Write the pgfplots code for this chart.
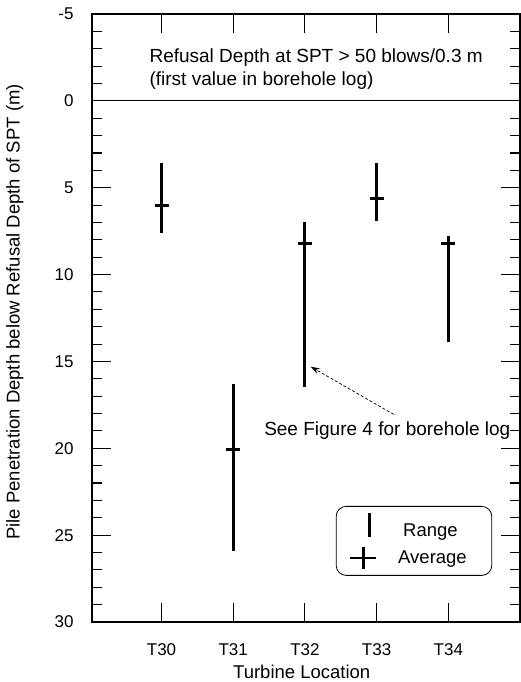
\documentclass[border=0pt]{standalone}
\usepackage{fontspec}
\setmainfont{Liberation Sans}
\usepackage{pgfplots}
\pgfplotsset{compat=1.18}
\usepackage{pgfplotstable}
\usetikzlibrary{arrows.meta}

% pile penetration below refusal depth: min, max, average (m)
\pgfplotstableread{
x lo hi avg
0 3.6 7.6 6.0
1 16.3 25.9 20.05
2 7.0 16.5 8.2
3 3.55 6.9 5.6
4 7.8 13.9 8.2
}\piles

\begin{document}
\begin{tikzpicture}[font=\fontsize{18.5}{22}\selectfont]
\useasboundingbox (-92pt,-60pt) rectangle (429pt,622pt);
\begin{axis}[
  at={(0,0)}, anchor=south west,
  scale only axis, width=428pt, height=608pt,
  xmin=-0.97, xmax=5, ymin=-5, ymax=30, y dir=reverse,
  xtick={0,...,4}, xticklabels={T30,T31,T32,T33,T34},
  ytick={-5,0,...,30}, minor y tick num=4,
  tick align=inside, major tick length=19pt, minor tick length=10pt,
  every tick/.style={black, line width=1.1pt},
  axis line style={line width=1.6pt},
  /pgf/number format/assume math mode=true,
  tick label style={font=\fontsize{17}{20}\selectfont},
  yticklabel style={xshift=-15pt},
  xticklabel style={yshift=-18pt},
  xlabel={Turbine Location},
  ylabel={Pile Penetration Depth below Refusal Depth of SPT (m)},
  xlabel style={at={(axis description cs:0.49,0)}, anchor=center, yshift=-50pt},
  ylabel style={at={(axis description cs:-0.18,0.51)}, anchor=center},
  legend style={at={(axis description cs:0.935,0.076)}, anchor=south east,
    draw=black, line width=0.8pt, rounded corners=10pt,
    inner xsep=3pt, inner ysep=5pt, row sep=6pt},
  legend cell align=left,
]
\addplot[black, line width=1pt, forget plot] coordinates {(-0.97,0) (5,0)};
\addplot[draw=none, mark=none, forget plot,
  error bars/.cd, y dir=both, y explicit, error mark=none,
  error bar style={line width=3pt}]
  table[x=x, y=avg,
    y error plus expr=\thisrow{hi}-\thisrow{avg},
    y error minus expr=\thisrow{avg}-\thisrow{lo}] {\piles};
\addplot[only marks, mark=-, mark size=7pt, forget plot,
  mark options={line width=3pt}] table[x=x, y=avg] {\piles};

\addlegendimage{legend image code/.code={
  \path[draw=none] (0pt,0pt) -- (44pt,0pt);
  \draw[line width=2.6pt] (30pt,-6pt) -- (30pt,18pt);}}
\addlegendentry{\hspace{18pt}Range}
\addlegendimage{legend image code/.code={
  \path[draw=none] (0pt,0pt) -- (44pt,0pt);
  \draw[line width=2.6pt] (11pt,0pt) -- (37pt,0pt);
  \draw[line width=2.6pt] (24pt,-11pt) -- (24pt,11pt);}}
\addlegendentry{\hspace{13pt}Average\kern20pt}

\node[anchor=west, align=left, inner sep=0pt, font=\fontsize{19}{23}\selectfont]
  at (axis cs:-0.17,-1.85)
  {Refusal Depth at SPT > 50 blows/0.3 m\\(first value in borehole log)};
\draw[densely dashed, line width=0.7pt, -{Stealth[length=9pt,width=6pt]}]
  (axis cs:3.24,18.05) -- (axis cs:2.08,15.3);
\node[anchor=west, inner sep=0pt, font=\fontsize{19}{23}\selectfont]
  at (axis cs:1.43,19.0) {See Figure 4 for borehole log};
\end{axis}
\end{tikzpicture}
\end{document}
